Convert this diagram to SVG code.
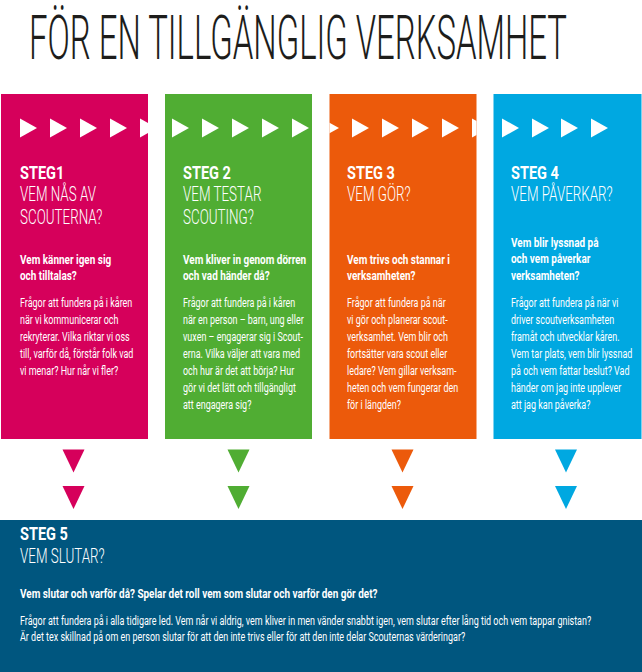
<svg xmlns="http://www.w3.org/2000/svg" width="642" height="672" viewBox="0 0 642 672">
<style>
text{font-family:Roboto,"Liberation Sans",Arial,sans-serif;fill:#ffffff}
.title{font-size:34px;font-weight:300;fill:#1d1d1b}
.steg{font-size:17.5px;font-weight:700;transform:scale(0.83,1)}
.sub{font-size:20px;font-weight:300;transform:scale(0.67,1)}
.q{font-size:12px;font-weight:700;transform:scale(0.83,1)}
.b{font-size:13px;font-weight:400;transform:scale(0.69,1)}
.arr{fill:#ffffff}
</style>
<defs>
<polygon id="arrow" points="0,118.5 17,128 0,137.5"/>
<polygon id="down" points="-11,0 11,0 0,23"/>
<clipPath id="c1"><rect x="1" y="94" width="147" height="345"/></clipPath>
<clipPath id="c2"><rect x="165" y="94" width="147" height="345"/></clipPath>
<clipPath id="c3"><rect x="329.5" y="94" width="147" height="345"/></clipPath>
<clipPath id="c4"><rect x="493.5" y="94" width="148" height="345"/></clipPath>
</defs>
<rect width="642" height="672" fill="#ffffff"/>
<text class="title" transform="translate(29,59) scale(1,1.82)" x="0" y="0" textLength="538" lengthAdjust="spacingAndGlyphs">FÖR EN TILLGÄNGLIG VERKSAMHET</text>

<g id="steg1">
<rect x="1" y="94" width="147" height="345" fill="#d6005b"/>
<g clip-path="url(#c1)" class="arr">
<use href="#arrow" x="20"/><use href="#arrow" x="50"/><use href="#arrow" x="80"/><use href="#arrow" x="110"/><use href="#arrow" x="140"/>
</g>
<g transform="translate(20,0)">
<text class="steg" x="0" y="179">STEG1</text>
<text class="sub" x="0" y="201.5">VEM NÅS AV</text>
<text class="sub" x="0" y="224">SCOUTERNA?</text>
<text class="q" x="0" y="264.5">Vem känner igen sig</text>
<text class="q" x="0" y="280">och tilltalas?</text>
<text class="b" x="0" y="307">Frågor att fundera på i kåren</text>
<text class="b" x="0" y="324">när vi kommunicerar och</text>
<text class="b" x="0" y="341">rekryterar. Vilka riktar vi oss</text>
<text class="b" x="0" y="358">till, varför då, förstår folk vad</text>
<text class="b" x="0" y="375">vi menar? Hur når vi fler?</text>
</g>
</g>

<g id="steg2">
<rect x="165" y="94" width="147" height="345" fill="#50ad33"/>
<g clip-path="url(#c2)" class="arr">
<use href="#arrow" x="172"/><use href="#arrow" x="202"/><use href="#arrow" x="232"/><use href="#arrow" x="262"/><use href="#arrow" x="292"/>
</g>
<g transform="translate(183,0)">
<text class="steg" x="0" y="179">STEG 2</text>
<text class="sub" x="0" y="201.5">VEM TESTAR</text>
<text class="sub" x="0" y="224">SCOUTING?</text>
<text class="q" x="0" y="264.5">Vem kliver in genom dörren</text>
<text class="q" x="0" y="280">och vad händer då?</text>
<text class="b" x="0" y="307">Frågor att fundera på i kåren</text>
<text class="b" x="0" y="324">när en person – barn, ung eller</text>
<text class="b" x="0" y="341">vuxen – engagerar sig i Scout-</text>
<text class="b" x="0" y="358">erna. Vilka väljer att vara med</text>
<text class="b" x="0" y="375">och hur är det att börja? Hur</text>
<text class="b" x="0" y="392">gör vi det lätt och tillgängligt</text>
<text class="b" x="0" y="409">att engagera sig?</text>
</g>
</g>

<g id="steg3">
<rect x="329.5" y="94" width="147" height="345" fill="#ec5a0b"/>
<g clip-path="url(#c3)" class="arr">
<use href="#arrow" x="322"/><use href="#arrow" x="352"/><use href="#arrow" x="382"/><use href="#arrow" x="412"/><use href="#arrow" x="442"/><use href="#arrow" x="472"/>
</g>
<g transform="translate(347,0)">
<text class="steg" x="0" y="179">STEG 3</text>
<text class="sub" x="0" y="201.5">VEM GÖR?</text>
<text class="q" x="0" y="264.5">Vem trivs och stannar i</text>
<text class="q" x="0" y="280">verksamheten?</text>
<text class="b" x="0" y="307">Frågor att fundera på när</text>
<text class="b" x="0" y="324">vi gör och planerar scout-</text>
<text class="b" x="0" y="341">verksamhet. Vem blir och</text>
<text class="b" x="0" y="358">fortsätter vara scout eller</text>
<text class="b" x="0" y="375">ledare? Vem gillar verksam-</text>
<text class="b" x="0" y="392">heten och vem fungerar den</text>
<text class="b" x="0" y="409">för i längden?</text>
</g>
</g>

<g id="steg4">
<rect x="493.5" y="94" width="148" height="345" fill="#00a8e1"/>
<g clip-path="url(#c4)" class="arr">
<use href="#arrow" x="502"/><use href="#arrow" x="532"/><use href="#arrow" x="561"/><use href="#arrow" x="591"/>
</g>
<g transform="translate(511,0)">
<text class="steg" x="0" y="179">STEG 4</text>
<text class="sub" x="0" y="201.5">VEM PÅVERKAR?</text>
<text class="q" x="0" y="247">Vem blir lyssnad på</text>
<text class="q" x="0" y="263.5">och vem påverkar</text>
<text class="q" x="0" y="280">verksamheten?</text>
<text class="b" x="0" y="307">Frågor att fundera på när vi</text>
<text class="b" x="0" y="324">driver scoutverksamheten</text>
<text class="b" x="0" y="341">framåt och utvecklar kåren.</text>
<text class="b" x="0" y="358">Vem tar plats, vem blir lyssnad</text>
<text class="b" x="0" y="375">på och vem fattar beslut? Vad</text>
<text class="b" x="0" y="392">händer om jag inte upplever</text>
<text class="b" x="0" y="409">att jag kan påverka?</text>
</g>
</g>

<g id="connectors">
<use href="#down" x="73.5" y="449.5" fill="#d6005b"/>
<use href="#down" x="73.5" y="486" fill="#d6005b"/>
<use href="#down" x="238.5" y="449.5" fill="#50ad33"/>
<use href="#down" x="238.5" y="486" fill="#50ad33"/>
<use href="#down" x="402.5" y="449.5" fill="#ec5a0b"/>
<use href="#down" x="402.5" y="486" fill="#ec5a0b"/>
<use href="#down" x="566" y="449.5" fill="#00a8e1"/>
<use href="#down" x="566" y="486" fill="#00a8e1"/>
</g>

<g id="steg5">
<rect x="0" y="520" width="642" height="152" fill="#00567f"/>
<g transform="translate(20,0)">
<text class="steg" x="0" y="540">STEG 5</text>
<text class="sub" x="0" y="563">VEM SLUTAR?</text>
<text class="q" x="0" y="598">Vem slutar och varför då? Spelar det roll vem som slutar och varför den gör det?</text>
<text class="b" x="0" y="625">Frågor att fundera på i alla tidigare led. Vem når vi aldrig, vem kliver in men vänder snabbt igen, vem slutar efter lång tid och vem tappar gnistan?</text>
<text class="b" x="0" y="641.5">Är det tex skillnad på om en person slutar för att den inte trivs eller för att den inte delar Scouternas värderingar?</text>
</g>
</g>
</svg>
